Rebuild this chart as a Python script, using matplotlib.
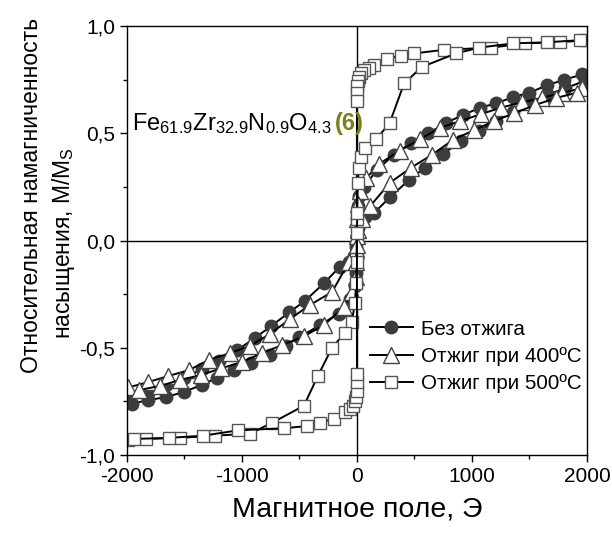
import matplotlib
matplotlib.use('Agg')
import matplotlib.pyplot as plt
from matplotlib.ticker import MultipleLocator

plt.rcParams['font.family'] = ['Liberation Sans', 'DejaVu Sans']
plt.rcParams['mathtext.fontset'] = 'custom'
plt.rcParams['mathtext.rm'] = 'Liberation Sans'

# Без отжига: descending / ascending branches
circ_desc_x = [1960, 1800, 1650, 1500, 1360, 1210, 1070, 920, 775, 620, 470, 320, 175, 60, 20, 6, 2,
               -2, -8, -25, -70, -150, -290, -450, -590, -750, -890, -1040, -1200, -1350, -1500,
               -1660, -1820, -1980]
circ_desc_y = [0.775, 0.75, 0.724, 0.69, 0.67, 0.64, 0.62, 0.585, 0.55, 0.50, 0.456, 0.40, 0.33, 0.25,
               0.21, 0.16, 0.10, 0.02, -0.03, -0.07, -0.10, -0.123, -0.20, -0.28, -0.335, -0.40,
               -0.455, -0.51, -0.56, -0.60, -0.64, -0.675, -0.71, -0.74]
circ_asc_x = [-1960, -1820, -1660, -1500, -1350, -1220, -1070, -920, -760, -620, -500, -320, -160, -60,
              -20, -6, -2, 2, 8, 25, 70, 148, 287, 452, 591, 748, 904, 1060, 1210, 1360, 1510, 1660,
              1810, 1980]
circ_asc_y = [-0.762, -0.744, -0.73, -0.705, -0.673, -0.64, -0.604, -0.572, -0.535, -0.49, -0.45,
              -0.394, -0.34, -0.27, -0.21, -0.15, -0.08, 0.02, 0.06, 0.09, 0.11, 0.128, 0.203, 0.282,
              0.34, 0.403, 0.464, 0.51, 0.56, 0.60, 0.64, 0.68, 0.71, 0.745]

# Отжиг при 400°C
tri_desc_x = [1957, 1783, 1609, 1435, 1252, 1078, 896, 722, 548, 374, 191, 80, 30, 10, 3,
              -3, -10, -30, -70, -217, -409, -583, -757, -930, -1104, -1287, -1461, -1643, -1817, -1990]
tri_desc_y = [0.71, 0.69, 0.665, 0.645, 0.62, 0.59, 0.557, 0.526, 0.473, 0.42, 0.357, 0.29, 0.23, 0.17,
              0.10, 0.02, -0.04, -0.07, -0.10, -0.24, -0.30, -0.366, -0.436, -0.49, -0.525, -0.556,
              -0.604, -0.632, -0.66, -0.685]
tri_asc_x = [-1896, -1713, -1539, -1357, -1183, -1000, -826, -652, -461, -287, -113, -40, -12, -4,
             4, 12, 40, 113, 287, 470, 652, 835, 1017, 1191, 1365, 1548, 1730, 1913]
tri_asc_y = [-0.697, -0.678, -0.65, -0.627, -0.596, -0.566, -0.525, -0.487, -0.446, -0.394, -0.31,
             -0.24, -0.17, -0.10, -0.02, 0.05, 0.10, 0.16, 0.27, 0.34, 0.40, 0.47, 0.515, 0.557,
             0.594, 0.632, 0.665, 0.69]

# Отжиг при 500°C
sq_desc_x = [1990, 1765, 1461, 1165, 757, 496, 383, 261, 148, 104, 61, 35, 18, 8, 3, 1, 0,
             -1, -3, -8, -17, -45, -104, -217, -339, -461, -739, -930, -1235, -1539, -1835, -1990]
sq_desc_y = [0.935, 0.925, 0.92, 0.90, 0.89, 0.873, 0.863, 0.848, 0.82, 0.806, 0.795, 0.78, 0.765,
             0.745, 0.72, 0.69, 0.65, 0.10, -0.10, -0.20, -0.29, -0.38, -0.43, -0.50, -0.63, -0.77,
             -0.85, -0.90, -0.91, -0.92, -0.925, -0.93]
sq_asc_x = [-1939, -1635, -1339, -1035, -635, -435, -322, -200, -104, -60, -35, -18, -8, -3, -1, 0,
            0, 2, 8, 17, 35, 70, 168, 284, 410, 565, 861, 1061, 1357, 1652, 1940]
sq_asc_y = [-0.925, -0.92, -0.91, -0.885, -0.875, -0.865, -0.85, -0.83, -0.80, -0.785, -0.77, -0.75,
            -0.73, -0.70, -0.66, -0.62, 0.035, 0.13, 0.27, 0.34, 0.39, 0.43, 0.473, 0.548, 0.733,
            0.81, 0.873, 0.90, 0.92, 0.925, 0.935]

labels = ['Без отжига', 'Отжиг при 400ºC', 'Отжиг при 500ºC']
xticks = [-2000, -1000, 0, 1000, 2000]
xticklabels = ['-2000', '-1000', '0', '1000', '2000']
yticks = [-1.0, -0.5, 0.0, 0.5, 1.0]
yticklabels = ['-1,0', '-0,5', '0,0', '0,5', '1,0']

fig = plt.figure(figsize=(6.12, 5.35), dpi=100)
ax = fig.add_axes([0.2075, 0.1495, 0.7515, 0.8015])

ax.axhline(0, color='black', lw=1.0, zorder=1)
ax.axvline(0, color='black', lw=1.0, zorder=1)

circ = dict(color='black', lw=1.4, marker='o', ms=9, mfc='#3c3c3c', mec='#3c3c3c')
tri = dict(color='black', lw=1.4, marker='^', ms=11, mfc='white', mec='#444444', mew=1.0)
sq = dict(color='black', lw=1.4, marker='s', ms=9, mfc='white', mec='#555555', mew=1.0)

ax.plot(circ_desc_x, circ_desc_y, label=labels[0], **circ)
ax.plot(circ_asc_x, circ_asc_y, **circ)
ax.plot(tri_desc_x, tri_desc_y, label=labels[1], **tri)
ax.plot(tri_asc_x, tri_asc_y, **tri)
ax.plot(sq_desc_x, sq_desc_y, label=labels[2], **sq)
ax.plot(sq_asc_x, sq_asc_y, **sq)

ax.set_xlim(-2000, 2000)
ax.set_ylim(-1.0, 1.0)
ax.set_xticks(xticks)
ax.set_xticklabels(xticklabels)
ax.set_yticks(yticks)
ax.set_yticklabels(yticklabels)
ax.xaxis.set_minor_locator(MultipleLocator(500))
ax.yaxis.set_minor_locator(MultipleLocator(0.25))
ax.tick_params(which='major', direction='out', length=5, width=1, labelsize=15, colors='black')
ax.tick_params(which='minor', direction='out', length=3, width=1)
for s in ax.spines.values():
    s.set_linewidth(1.0)

ax.set_xlabel('Магнитное поле, Э', fontsize=20.5, labelpad=8)
fig.text(0.052, 1 - 195 / 535, 'Относительная намагниченность', rotation=90,
         fontsize=16.5, ha='center', va='center')
fig.text(0.103, 1 - 243 / 535, r'насыщения, $\mathregular{M/M_S}$', rotation=90,
         fontsize=16.5, ha='center', va='center')

t = ax.text(-1957, 0.515,
            r'$\mathregular{Fe_{61.9}Zr_{32.9}N_{0.9}O_{4.3}}$', fontsize=17, va='baseline')
fig.canvas.draw()
bb = t.get_window_extent()
x_end = ax.transData.inverted().transform((bb.x1, bb.y0))[0]
ax.text(x_end + 25, 0.515, '(6)', fontsize=17, fontweight='bold', color='#7d7d1e', va='baseline')

ax.legend(loc='upper left', bbox_to_anchor=(0.51, 0.335), frameon=False, fontsize=14.8,
          handlelength=2.1, handletextpad=0.4, labelspacing=0.4, borderaxespad=0)

fig.savefig('out.png', dpi=100)
